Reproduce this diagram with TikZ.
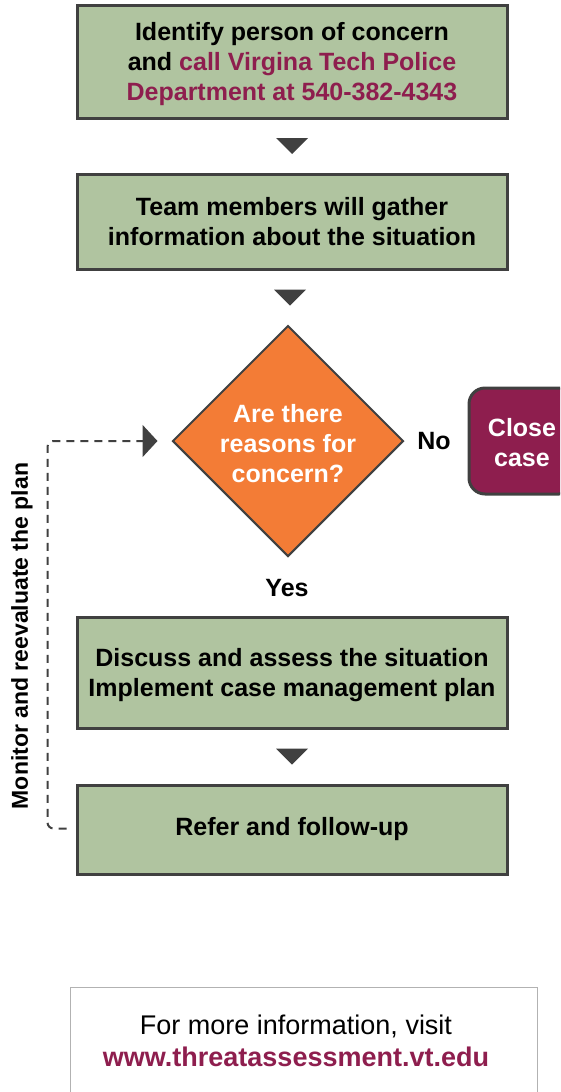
\documentclass[tikz,border=0pt]{standalone}
\usepackage{fontspec}
\setmainfont{Liberation Sans}
\usetikzlibrary{shapes.geometric,calc,arrows.meta}
\definecolor{boxgreen}{RGB}{176,196,160}
\definecolor{edgegray}{RGB}{64,64,64}
\definecolor{vtmaroon}{RGB}{142,30,78}
\definecolor{vtorange}{RGB}{243,124,54}

\begin{document}
\begin{tikzpicture}[x=1pt, y=-1pt, every node/.style={font=\fontsize{25}{30}\selectfont\bfseries, align=center, inner sep=0pt}, stepbox/.style={draw=edgegray, line width=3pt, fill=boxgreen, minimum width=430pt}, downtip/.style={fill=edgegray}]
	\clip (0,0) rectangle (560,1092);
	\node[stepbox, minimum height=113pt](identify) at (292,61.5){\rule{0pt}{24pt}Identify person of concern\\and \textcolor{vtmaroon}{call Virgina Tech Police}\\\textcolor{vtmaroon}{Department at 540-382-4343}};
	\node[stepbox, minimum height=95pt](gather) at (292,221.5){Team members will gather\\information about the situation};
	\node[diamond, draw=edgegray, line width=2pt, fill=vtorange, text=white, minimum width=231pt, minimum height=231pt](concern) at (288,441){\rule{0pt}{24pt}Are there\\reasons for\\concern?};
	\node(no) at (434,441){No};
	\node[draw=edgegray, line width=3pt, fill=vtmaroon, text=white, rounded corners=16pt, minimum width=106pt, minimum height=106pt](close) at (522,441){\rule{0pt}{22pt}Close\\case};
	\node(yes) at (287,588){Yes};
	\node[stepbox, minimum height=111pt](assess) at (292,672.5){\rule{0pt}{24pt}Discuss and assess the situation\\Implement case management plan};
	\node[stepbox, minimum height=89pt](refer) at (292,829.5){Refer and follow-up};
	\node[rotate=90, font=\fontsize{23}{28}\selectfont\bfseries](monitor) at (22,636){Monitor and reevaluate the plan};
	\node[draw=gray!60, line width=1pt, minimum width=467pt, minimum height=113pt](infobox) at (303.5,1043.5){};
	\node[font=\fontsize{27}{32}\selectfont](info) at (296,1041){For more information, visit\\\textcolor{vtmaroon}{\bfseries www.threatassessment.vt.edu}};
	% tips between the steps
	\foreach \a/\b in {identify/gather, gather/concern, assess/refer}{
		\coordinate (m) at ($(\a.south)!0.5!(\b.north)$);
		\fill[downtip] ($(m)+(-16,-8)$) -- ($(m)+(16,-8)$) -- ($(m)+(0,8)$) -- cycle;
	}
	% loop back
	\coordinate (loopend) at ($(refer.west)+(-9,-1)$);
	\coordinate (looptip) at ($(concern.west)+(-14,0)$);
	\draw[edgegray, line width=2pt, dash pattern=on 8pt off 6pt, rounded corners=6pt, -{Triangle[length=15pt,width=32pt]}] (loopend) -- ++(-19,0) |- (looptip);
\end{tikzpicture}
\end{document}
